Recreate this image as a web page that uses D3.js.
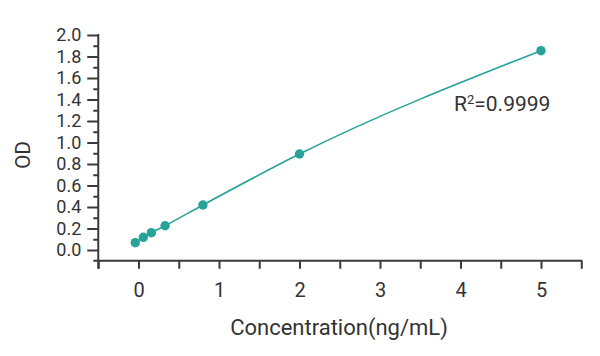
<!DOCTYPE html>
<html>
<head>
<meta charset="utf-8">
<script src="https://cdn.jsdelivr.net/npm/d3@7/dist/d3.min.js"></script>
<style>
  html, body { margin: 0; padding: 0; background: #fff; }
  svg { display: block; }
  text { font-family: Roboto, "Noto Sans", sans-serif; fill: #333; }
</style>
</head>
<body>
<svg id="chart" width="600" height="356"></svg>
<script>
// ---- data ----
const concentration = [-0.04, 0.06, 0.16, 0.33, 0.8, 2.0, 5.0];
const od = [0.068, 0.118, 0.161, 0.226, 0.419, 0.893, 1.854];
const yTickLabels = ["0.0","0.2","0.4","0.6","0.8","1.0","1.2","1.4","1.6","1.8","2.0"];
const xTickLabels = ["0","1","2","3","4","5"];
const xTitle = "Concentration(ng/mL)";
const yTitle = "OD";
const r2Label = "0.9999";

const teal = "#27a39a";
const axisColor = "#3a3a3a";

const svg = d3.select("#chart");
const x = d3.scaleLinear().domain([0, 5]).range([138.5, 541]);
const y = d3.scaleLinear().domain([0, 2]).range([250, 35]);

const yMajor = yTickLabels.map(Number);
const yMinor = d3.range(1, 20, 2).map(d => d / 10);
const xAll = d3.range(-1, 12).map(d => d / 2);

const x0 = x(-0.5);      // y-axis position
const yAxisY = y(-0.1);  // x-axis position

// y axis: major ticks with labels
const gy = svg.append("g").attr("transform", `translate(${x0},0)`);
gy.call(d3.axisLeft(y).tickValues(yMajor).tickSize(11).tickPadding(6)
  .tickFormat((d, i) => yTickLabels[i]));
gy.append("g").call(d3.axisLeft(y).tickValues(yMinor).tickSize(5).tickFormat(""));
gy.selectAll(".domain").remove();
gy.selectAll("line").attr("stroke", axisColor).attr("stroke-width", 2);
gy.selectAll("text").style("font-size", "18px").attr("fill", "#333")
  .style("font-family", "Roboto, sans-serif");

// x axis
const gx = svg.append("g").attr("transform", `translate(0,${yAxisY})`);
gx.call(d3.axisBottom(x).tickValues(xAll).tickSize(8).tickPadding(14)
  .tickFormat(d => Number.isInteger(d) && d >= 0 && d <= 5 ? xTickLabels[d] : ""));
gx.selectAll(".domain").remove();
gx.selectAll("line").attr("stroke", axisColor).attr("stroke-width", 2);
gx.selectAll("text").style("font-size", "20px").attr("fill", "#333")
  .style("font-family", "Roboto, sans-serif");

// axis lines
svg.append("line")
  .attr("x1", x0).attr("x2", x0)
  .attr("y1", y(2) - 1).attr("y2", yAxisY + 8)
  .attr("stroke", axisColor).attr("stroke-width", 2);
svg.append("line")
  .attr("x1", x0 - 5).attr("x2", x(5.5) + 1)
  .attr("y1", yAxisY).attr("y2", yAxisY)
  .attr("stroke", axisColor).attr("stroke-width", 2);

// curve
const pts = concentration.map((c, i) => [c, od[i]]);
const line = d3.line().x(d => x(d[0])).y(d => y(d[1])).curve(d3.curveMonotoneX);
svg.append("path").datum(pts).attr("d", line)
  .attr("fill", "none").attr("stroke", teal).attr("stroke-width", 1.6);

svg.selectAll("circle.pt").data(pts).join("circle")
  .attr("class", "pt")
  .attr("cx", d => x(d[0])).attr("cy", d => y(d[1])).attr("r", 4.7)
  .attr("fill", teal);

// titles
svg.append("text")
  .attr("x", 339).attr("y", 335)
  .attr("text-anchor", "middle").style("font-size", "22px")
  .text(xTitle);
svg.append("text")
  .attr("transform", `translate(30,${155}) rotate(-90)`)
  .attr("text-anchor", "middle").style("font-size", "21px")
  .text(yTitle);

// R² annotation
const rt = svg.append("text")
  .attr("x", 454).attr("y", 111)
  .style("font-size", "21px");
rt.append("tspan").text("R");
rt.append("tspan").attr("dy", -7).style("font-size", "13px").text("2");
rt.append("tspan").attr("dy", 7).text("=" + r2Label);
</script>
</body>
</html>
